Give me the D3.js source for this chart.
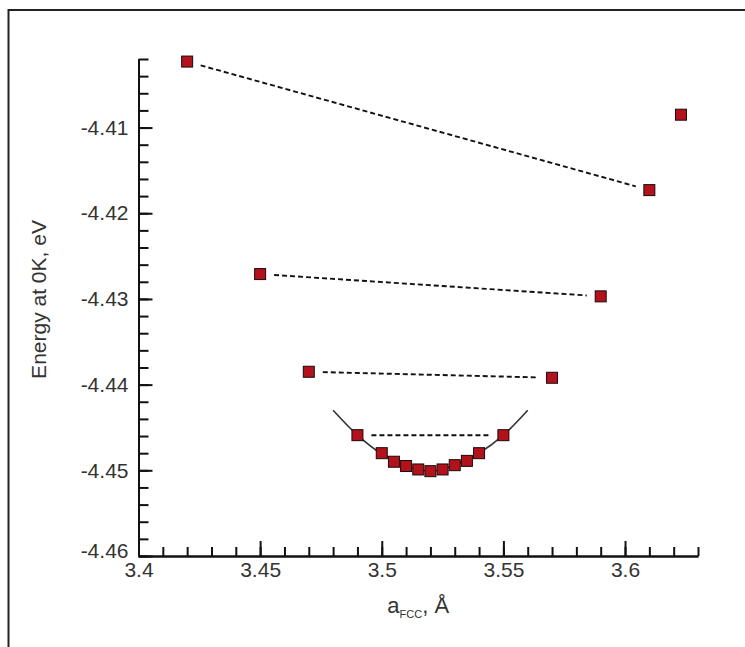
<!DOCTYPE html>
<html>
<head>
<meta charset="utf-8">
<script src="https://cdn.jsdelivr.net/npm/d3@7/dist/d3.min.js"></script>
<style>
  html, body { margin: 0; padding: 0; background: #fff; }
  svg { display: block; }
  text { font-family: "Liberation Sans", Arial, sans-serif; fill: #333; }
</style>
</head>
<body>
<svg id="chart" width="745" height="647"></svg>
<script>
// ---- data ----
const pointA = [3.42, 3.61, 3.623, 3.45, 3.59, 3.47, 3.57, 3.49, 3.50, 3.505, 3.51, 3.515, 3.52, 3.525, 3.53, 3.535, 3.54, 3.55];
const pointE = [-4.4023, -4.4173, -4.4085, -4.4271, -4.4297, -4.4385, -4.4392, -4.4459, -4.4480, -4.4490, -4.4495, -4.4499, -4.4501, -4.4499, -4.4494, -4.4489, -4.4480, -4.4459];
const dashFrom = [0, 3, 5, 7];
const dashTo   = [1, 4, 6, 17];
const fitA = [3.48, 3.49, 3.50, 3.51, 3.52, 3.53, 3.54, 3.55, 3.56];
const fitE = [-4.4430, -4.4459, -4.4481, -4.4495, -4.4501, -4.4494, -4.4480, -4.4459, -4.4430];
const xTickLabels = [3.4, 3.45, 3.5, 3.55, 3.6];
const yTickLabels = [-4.41, -4.42, -4.43, -4.44, -4.45, -4.46];
const xDomain = [3.4, 3.63];
const yDomain = [-4.46, -4.402];

// ---- layout ----
const svg = d3.select("#chart");
const plotL = 138.5, plotR = 698, plotT = 59, plotB = 556;
const x = d3.scaleLinear().domain(xDomain).range([plotL, plotR]);
const y = d3.scaleLinear().domain(yDomain).range([plotB, plotT]);
const fmt = d => String(d);

// outer frame (left + top edges visible)
svg.append("path")
  .attr("d", `M8.5,647 L8.5,10 L745,10`)
  .attr("fill", "none").attr("stroke", "#222").attr("stroke-width", 2);

// minor ticks
const xMinor = d3.range(0, 24).map(i => +(3.4 + i * 0.01).toFixed(3));
const yMinor = d3.range(0, 30).map(i => +(-4.46 + i * 0.002).toFixed(4));

const xMinorAxis = d3.axisBottom(x).tickValues(xMinor).tickSizeInner(-9).tickSizeOuter(0).tickFormat("");
const yMinorAxis = d3.axisLeft(y).tickValues(yMinor).tickSizeInner(-10).tickSizeOuter(0).tickFormat("");
const xAxis = d3.axisBottom(x).tickValues(xTickLabels).tickSizeInner(-15).tickSizeOuter(0).tickPadding(6).tickFormat(fmt);
const yAxis = d3.axisLeft(y).tickValues(yTickLabels).tickSizeInner(-14).tickSizeOuter(0).tickPadding(10).tickFormat(fmt);

function styleAxis(g) {
  g.selectAll("path, line").attr("stroke", "#111").attr("stroke-width", 2);
  g.selectAll("text").style("font-family", '"Liberation Sans", Arial, sans-serif').style("font-size", "21px").attr("fill", "#333");
}

const gxm = svg.append("g").attr("transform", `translate(0,${plotB})`).call(xMinorAxis); styleAxis(gxm);
const gym = svg.append("g").attr("transform", `translate(${plotL},0)`).call(yMinorAxis); styleAxis(gym);
const gx = svg.append("g").attr("transform", `translate(0,${plotB})`).call(xAxis); styleAxis(gx);
const gy = svg.append("g").attr("transform", `translate(${plotL},0)`).call(yAxis); styleAxis(gy);
gy.selectAll(".tick text").attr("dy", d => d === -4.46 ? "0.05em" : "0.32em");
gx.selectAll(".tick text").attr("dy", "0.72em");

// axis titles
svg.append("text")
  .attr("transform", `translate(46,${(plotT + plotB) / 2 - 8}) rotate(-90)`)
  .attr("text-anchor", "middle")
  .style("font-size", "21px")
  .text("Energy at 0K, eV");

const xt = svg.append("text")
  .attr("x", (plotL + plotR) / 2)
  .attr("y", 613)
  .attr("text-anchor", "middle")
  .style("font-size", "22px");
xt.append("tspan").text("a");
xt.append("tspan").attr("dy", 5).style("font-size", "11px").text("FCC");
xt.append("tspan").attr("dy", -5).text(", Å");

// dashed connectors (inset from markers)
const inset = 14;
dashFrom.forEach((fi, k) => {
  const ti = dashTo[k];
  const x1 = x(pointA[fi]), y1 = y(pointE[fi]);
  const x2 = x(pointA[ti]), y2 = y(pointE[ti]);
  const len = Math.hypot(x2 - x1, y2 - y1);
  const ux = (x2 - x1) / len, uy = (y2 - y1) / len;
  svg.append("line")
    .attr("x1", x1 + ux * inset).attr("y1", y1 + uy * inset)
    .attr("x2", x2 - ux * inset).attr("y2", y2 - uy * inset)
    .attr("stroke", "#111").attr("stroke-width", 1.9)
    .attr("stroke-dasharray", "5,3");
});

// fit curve
const fitData = fitA.map((a, i) => [a, fitE[i]]);
svg.append("path")
  .datum(fitData)
  .attr("fill", "none")
  .attr("stroke", "#333")
  .attr("stroke-width", 1.6)
  .attr("d", d3.line().x(d => x(d[0])).y(d => y(d[1])).curve(d3.curveCatmullRom));

// markers
const pts = pointA.map((a, i) => [a, pointE[i]]);
const ms = 11;
svg.append("g").selectAll("rect").data(pts).join("rect")
  .attr("x", d => x(d[0]) - ms / 2)
  .attr("y", d => y(d[1]) - ms / 2)
  .attr("width", ms).attr("height", ms)
  .attr("fill", "#b3121c")
  .attr("stroke", "#1a0a0a").attr("stroke-width", 1);
</script>
</body>
</html>
